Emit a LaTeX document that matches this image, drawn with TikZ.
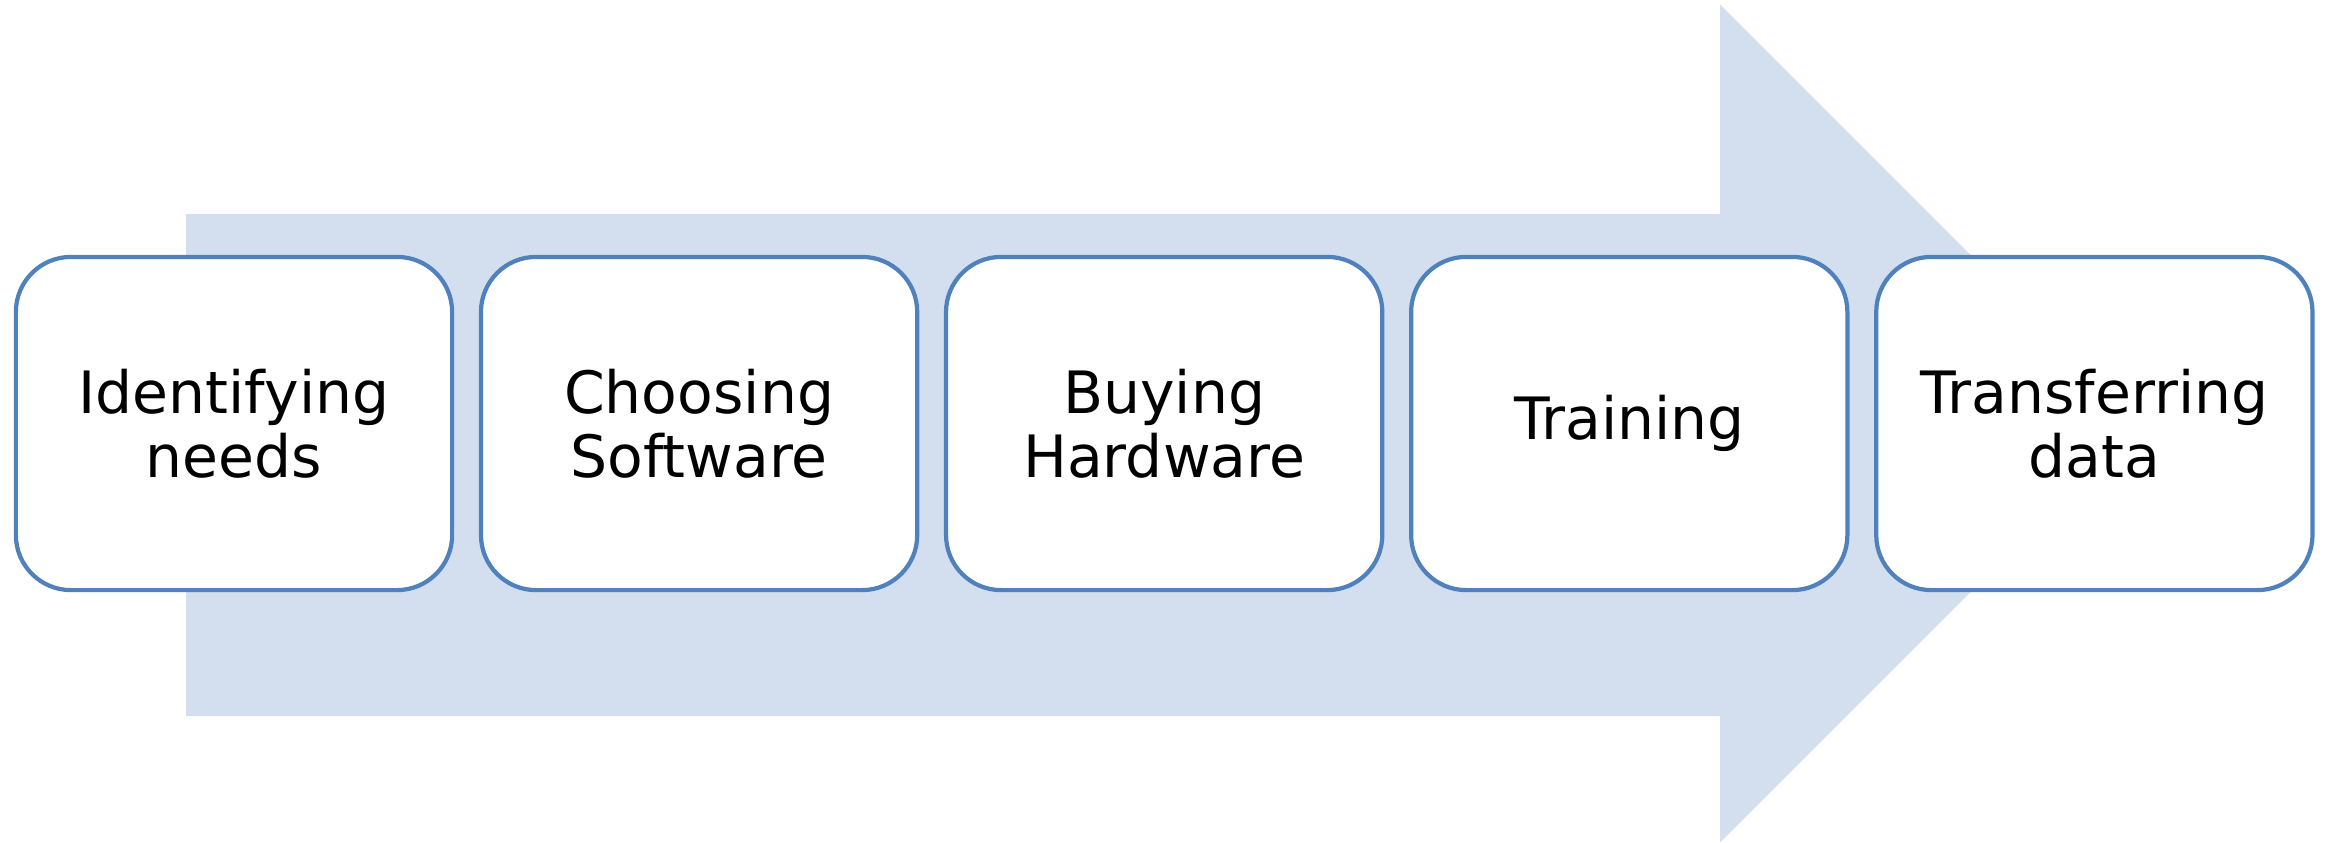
\documentclass[tikz,border=0pt]{standalone}
\usepackage{fontspec}
\setmainfont{DejaVu Sans}
\usetikzlibrary{positioning}
\definecolor{arrowfill}{HTML}{D3DEEF}
\definecolor{stageline}{HTML}{4F81BD}
\tikzset{
	stage/.style={draw=stageline, line width=1.2pt, fill=white, rounded corners=0.55cm,
		minimum width=4.36cm, minimum height=3.33cm, align=center, inner sep=0pt,
		font=\fontsize{16.6}{18.2}\selectfont}
}

\begin{document}
\begin{tikzpicture}[x=0.01cm, y=-0.01cm]
			%%%%% START %%%%%
			
			\useasboundingbox (0, 0) rectangle (2325, 842);
			
			% big arrow behind
			\fill[arrowfill] (186, 214) -- (1720, 214) -- (1720, 4.5) -- (2139, 423.5) -- (1720, 842.5) -- (1720, 716) -- (186, 716) -- cycle;
			
			\node[stage] (needs) at (234, 423.5) {Identifying\\needs};
			\node[stage, right=0.246cm of needs] (software) {Choosing\\Software};
			\node[stage, right=0.246cm of software] (hardware) {Buying\\Hardware};
			\node[stage, right=0.246cm of hardware] (training) {Training};
			\node[stage, right=0.246cm of training] (transfer) {Transferring\\data};
			
			%%%%% END %%%%%
\end{tikzpicture}
\end{document}
